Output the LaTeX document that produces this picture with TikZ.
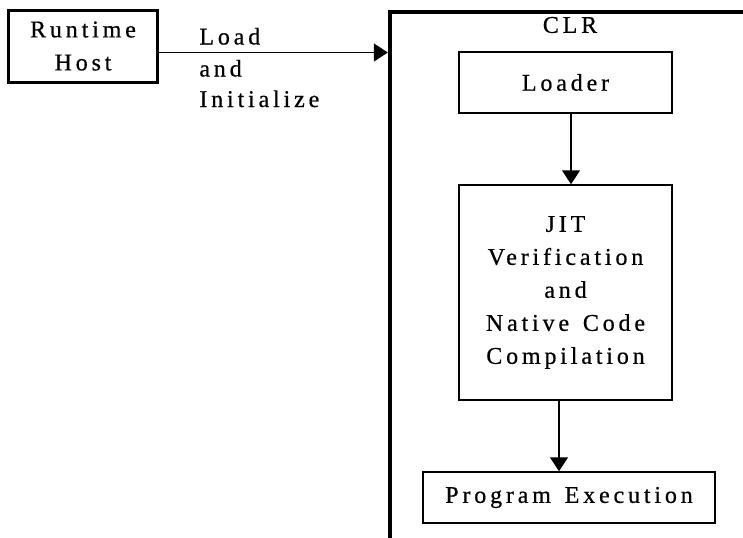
\documentclass[tikz,border=0pt]{standalone}
\usepackage{fontspec}
\setmainfont[LetterSpace=16,FakeBold=0.6,WordSpace=1.4]{Liberation Serif}
\usetikzlibrary{arrows.meta}
\begin{document}
\begin{tikzpicture}[x=0.5pt,y=-0.5pt,
  font=\fontsize{12pt}{16.5pt}\selectfont,
  stagebox/.style={draw, line width=0.75pt, inner sep=0pt, align=center},
  hostbox/.style={draw, line width=1.5pt, inner sep=0pt, align=center},
  frame/.style={draw, line width=2.2pt, inner sep=0pt},
  caption/.style={anchor=base west, inner sep=0pt},
  flow/.style={-{Triangle[length=7pt,width=9pt]}, line width=0.75pt}]
  \useasboundingbox (0,0) rectangle (743,537);
  \fill[white] (0,0) rectangle (743,537);
  \clip (0,0) rectangle (743,537);

  % host process and the CLR it starts
  \node[hostbox, minimum width=74.5pt, minimum height=36pt] (host) at (83,46) {Runtime\\Host};
  \node[frame, minimum width=205pt, minimum height=294pt] (clr) at (595,306) {};
  \node (clrlabel) at (570,25) {CLR};

  \coordinate (entry) at (0,52.5);
  \draw[flow] (host.east |- entry) -- (clr.west |- entry);
  \node[caption] (lbl1) at (199,44.5) {Load};
  \node[caption] (lbl2) at (199,76.5) {and};
  \node[caption] (lbl3) at (199,107) {Initialize};

  % stages inside the CLR
  \node[stagebox, minimum width=106.5pt, minimum height=30.5pt] (loader) at (565.5,82.5) {Loader};
  \node[stagebox, minimum width=106.5pt, minimum height=107.5pt] (jit) at (565.5,292.5)
    {JIT\\Verification\\and\\Native Code\\Compilation};
  \node[stagebox, minimum width=146pt, minimum height=25.5pt] (exec) at (569,497.5) {Program Execution};

  \coordinate (c1) at (571,0);
  \coordinate (c2) at (559,0);
  \draw[flow] (loader.south -| c1) -- (jit.north -| c1);
  \draw[flow] (jit.south -| c2) -- (exec.north -| c2);
\end{tikzpicture}
\end{document}
